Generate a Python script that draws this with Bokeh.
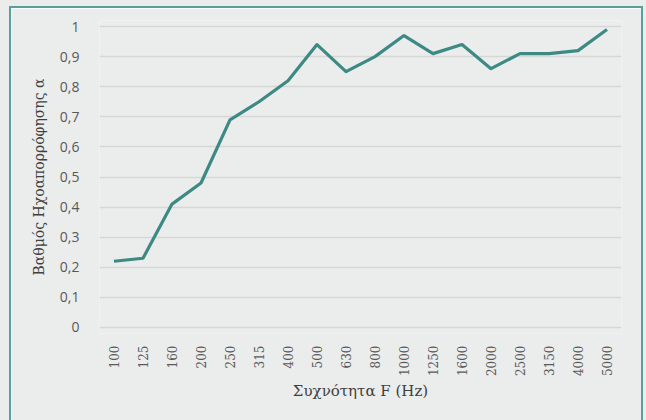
from bokeh.plotting import figure
from bokeh.models import FactorRange, Range1d, CustomJSTickFormatter
from bokeh.embed import file_html
from bokeh.resources import INLINE
import math

freqs = ["100", "125", "160", "200", "250", "315", "400", "500", "630", "800",
         "1000", "1250", "1600", "2000", "2500", "3150", "4000", "5000"]
alpha = [0.22, 0.23, 0.41, 0.48, 0.69, 0.75, 0.82, 0.94, 0.85, 0.90,
         0.97, 0.91, 0.94, 0.86, 0.91, 0.91, 0.92, 0.99]
y_ticks = [0, 0.1, 0.2, 0.3, 0.4, 0.5, 0.6, 0.7, 0.8, 0.9, 1.0]

BG = "#ebecec"
EDGE = "#58a09b"
p = figure(width=634, height=414, output_backend="svg", toolbar_location=None,
           x_range=FactorRange(factors=freqs, range_padding=0),
           y_range=Range1d(-0.02, 1.02),
           min_border_left=88, min_border_right=24, min_border_top=12, min_border_bottom=89,
           background_fill_color=BG, border_fill_color=BG)
p.styles = {"margin-left": "9px", "margin-top": "6px",
            "border-top": f"2px solid {EDGE}", "border-left": f"2px solid {EDGE}",
            "border-right": f"2px solid {EDGE}", "box-sizing": "border-box",
            "box-shadow": f"0 0 0 20px {BG}"}
p.outline_line_color = None
p.xgrid.grid_line_color = None
p.ygrid.grid_line_color = "#d6d7d7"
p.ygrid.grid_line_width = 1.3
p.yaxis.ticker = y_ticks
p.yaxis.formatter = CustomJSTickFormatter(code="return (Math.round(tick*10)/10).toString().replace('.', ',');")
for ax in (p.xaxis[0], p.yaxis[0]):
    ax.axis_line_color = None
    ax.major_tick_line_color = None
    ax.minor_tick_line_color = None
    ax.major_label_text_color = "#595959"
    ax.axis_label_text_color = "#404040"
    ax.axis_label_text_font = "DejaVu Serif"
    ax.axis_label_text_font_style = "normal"
p.xaxis.axis_label_text_font_size = "15px"
p.yaxis.axis_label_text_font_size = "14px"
p.yaxis.major_label_text_font = "Open Sans"
p.yaxis.major_label_text_font_size = "14px"
p.yaxis.major_label_standoff = 14
p.xaxis.major_label_text_font = "DejaVu Serif"
p.xaxis.major_label_text_font_size = "12px"
p.xaxis.major_label_orientation = math.pi / 2
p.xaxis.major_label_standoff = 6
p.xaxis.axis_label = "Συχνότητα F (Hz)"
p.yaxis.axis_label = "Βαθμός Ηχοαπορρόφησης α"
p.xaxis.axis_label_standoff = 3
p.yaxis.axis_label_standoff = 10

p.line(freqs, alpha, line_color="#3d8a84", line_width=3.2, line_join="round")

open("out.html", "w").write(file_html(p, INLINE))
